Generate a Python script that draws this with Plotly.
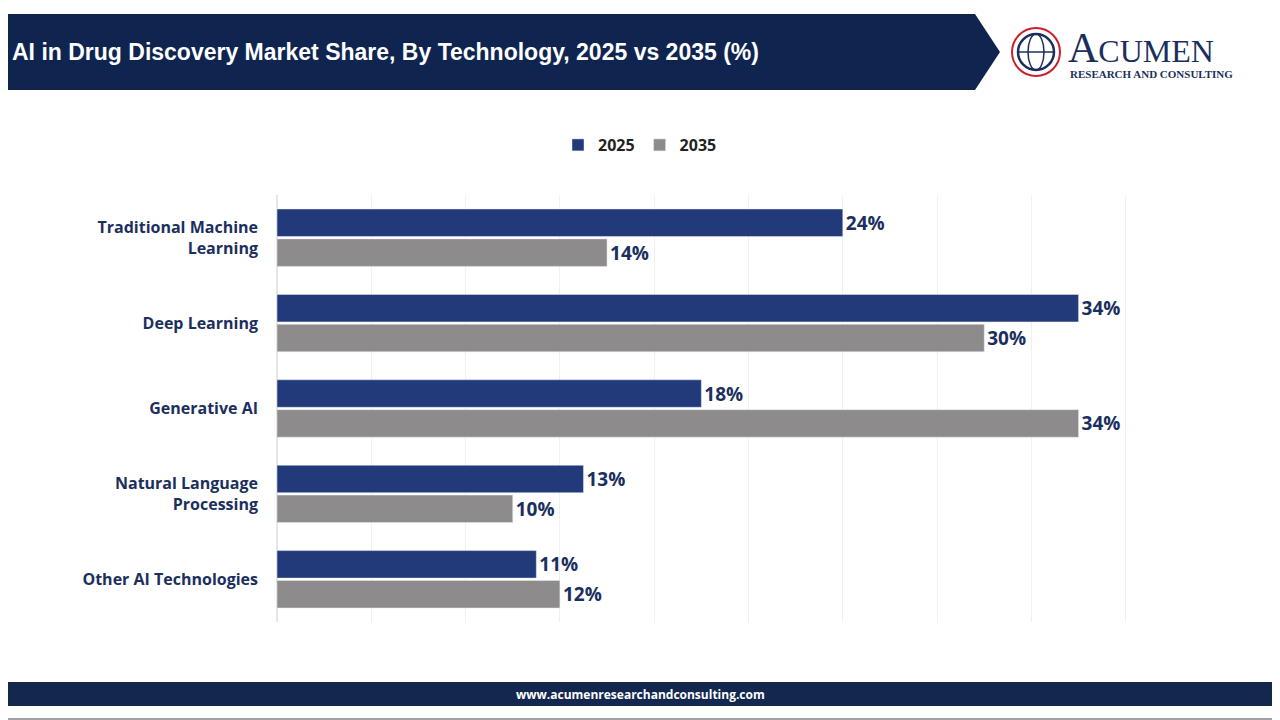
import plotly.graph_objects as go

categories = ["Traditional Machine<br>Learning", "Deep Learning", "Generative AI",
              "Natural Language<br>Processing", "Other AI Technologies"]
share_2025 = [24, 34, 18, 13, 11]
share_2035 = [14, 30, 34, 10, 12]

W, H = 1280, 720
OFF = 8  # page body margin shifts the figure
L, R, T, B = 277 - OFF, 1220 - OFF, 195 - OFF, 622 - OFF


def px(x):
    return (x - OFF - L) / (R - L)


def py(y):
    return (B - (y - OFF)) / (B - T)


navy = "#1b2f5e"
fig = go.Figure()
fig.add_trace(go.Bar(name="2025", y=categories, x=share_2025, orientation="h",
                     marker=dict(color="#22397a"),
                     text=[f"<b>{v}%</b>" for v in share_2025], textposition="outside",
                     textfont=dict(size=19, color=navy), cliponaxis=False))
fig.add_trace(go.Bar(name="2035", y=categories, x=share_2035, orientation="h",
                     marker=dict(color="#8d8b8b"),
                     text=[f"<b>{v}%</b>" for v in share_2035], textposition="outside",
                     textfont=dict(size=19, color=navy), cliponaxis=False))

shapes = [
    # header banner
    dict(type="path", xref="paper", yref="paper",
         path=f"M {px(0)},{py(14)} L {px(975)},{py(14)} L {px(1000)},{py(52)} "
              f"L {px(975)},{py(90)} L {px(0)},{py(90)} Z",
         fillcolor="#0f2550", line=dict(width=0), layer="below"),
    # footer bar
    dict(type="rect", xref="paper", yref="paper", x0=px(0), x1=px(1280), y0=py(682), y1=py(706),
         fillcolor="#14284f", line=dict(width=0), layer="below"),
    # logo globe
    dict(type="circle", xref="paper", yref="paper", x0=px(1012), x1=px(1060), y0=py(28), y1=py(76),
         fillcolor="white", line=dict(color="#c8202a", width=2)),
    dict(type="circle", xref="paper", yref="paper", x0=px(1018), x1=px(1054), y0=py(34), y1=py(70),
         fillcolor="white", line=dict(color=navy, width=2.5)),
    dict(type="circle", xref="paper", yref="paper", x0=px(1028), x1=px(1044), y0=py(34), y1=py(70),
         line=dict(color=navy, width=1.5)),
    dict(type="line", xref="paper", yref="paper", x0=px(1018), x1=px(1054), y0=py(52), y1=py(52),
         line=dict(color=navy, width=1.5)),
    # outer border
    dict(type="rect", xref="paper", yref="paper", x0=px(1), x1=px(1279), y0=py(1), y1=py(719),
         line=dict(color="#444444", width=1)),
]

annotations = [
    dict(text="<b>AI in Drug Discovery Market Share, By Technology, 2025 vs 2035 (%)</b>",
         xref="paper", yref="paper", x=px(10), y=py(52), xanchor="left", yanchor="middle",
         showarrow=False, font=dict(size=23, color="white", family="Liberation Sans")),
    dict(text="A<span style='font-size:32px'>CUMEN</span>", xref="paper", yref="paper",
         x=px(1066), y=py(48), xanchor="left", yanchor="middle", showarrow=False,
         font=dict(size=42, color=navy, family="Liberation Serif")),
    dict(text="<b>RESEARCH AND CONSULTING</b>", xref="paper", yref="paper",
         x=px(1068), y=py(74), xanchor="left", yanchor="middle", showarrow=False,
         font=dict(size=11, color=navy, family="Liberation Serif")),
    dict(text="<b>www.acumenresearchandconsulting.com</b>", xref="paper", yref="paper",
         x=px(640), y=py(694), xanchor="center", yanchor="middle", showarrow=False,
         font=dict(size=12, color="white", family="Open Sans")),
]

fig.update_layout(
    width=W, height=H,
    margin=dict(l=L, r=W - R, t=T, b=H - B),
    paper_bgcolor="white", plot_bgcolor="white",
    barmode="group", bargap=0.3, bargroupgap=0.08,
    font=dict(family="Open Sans", color=navy),
    legend=dict(orientation="h", x=px(640), y=py(145), xanchor="center",
                yanchor="middle", font=dict(size=16, color="#222222"),
                itemwidth=30, traceorder="normal"),
    xaxis=dict(range=[0, 40], showticklabels=False, showgrid=True, gridcolor="#f0f0f0",
               dtick=4, zeroline=True, zerolinecolor="#e6e6e6"),
    yaxis=dict(autorange="reversed", tickfont=dict(size=16, color=navy),
               ticklabelstandoff=18, showline=False),
    shapes=shapes, annotations=annotations,
)
fig.for_each_yaxis(lambda a: a.update(ticktext=[f"<b>{c}</b>" for c in categories], tickvals=categories))
fig.for_each_trace(lambda t: t.update(name=f"<b>{t.name}</b>"))

fig.write_html("out.html")
